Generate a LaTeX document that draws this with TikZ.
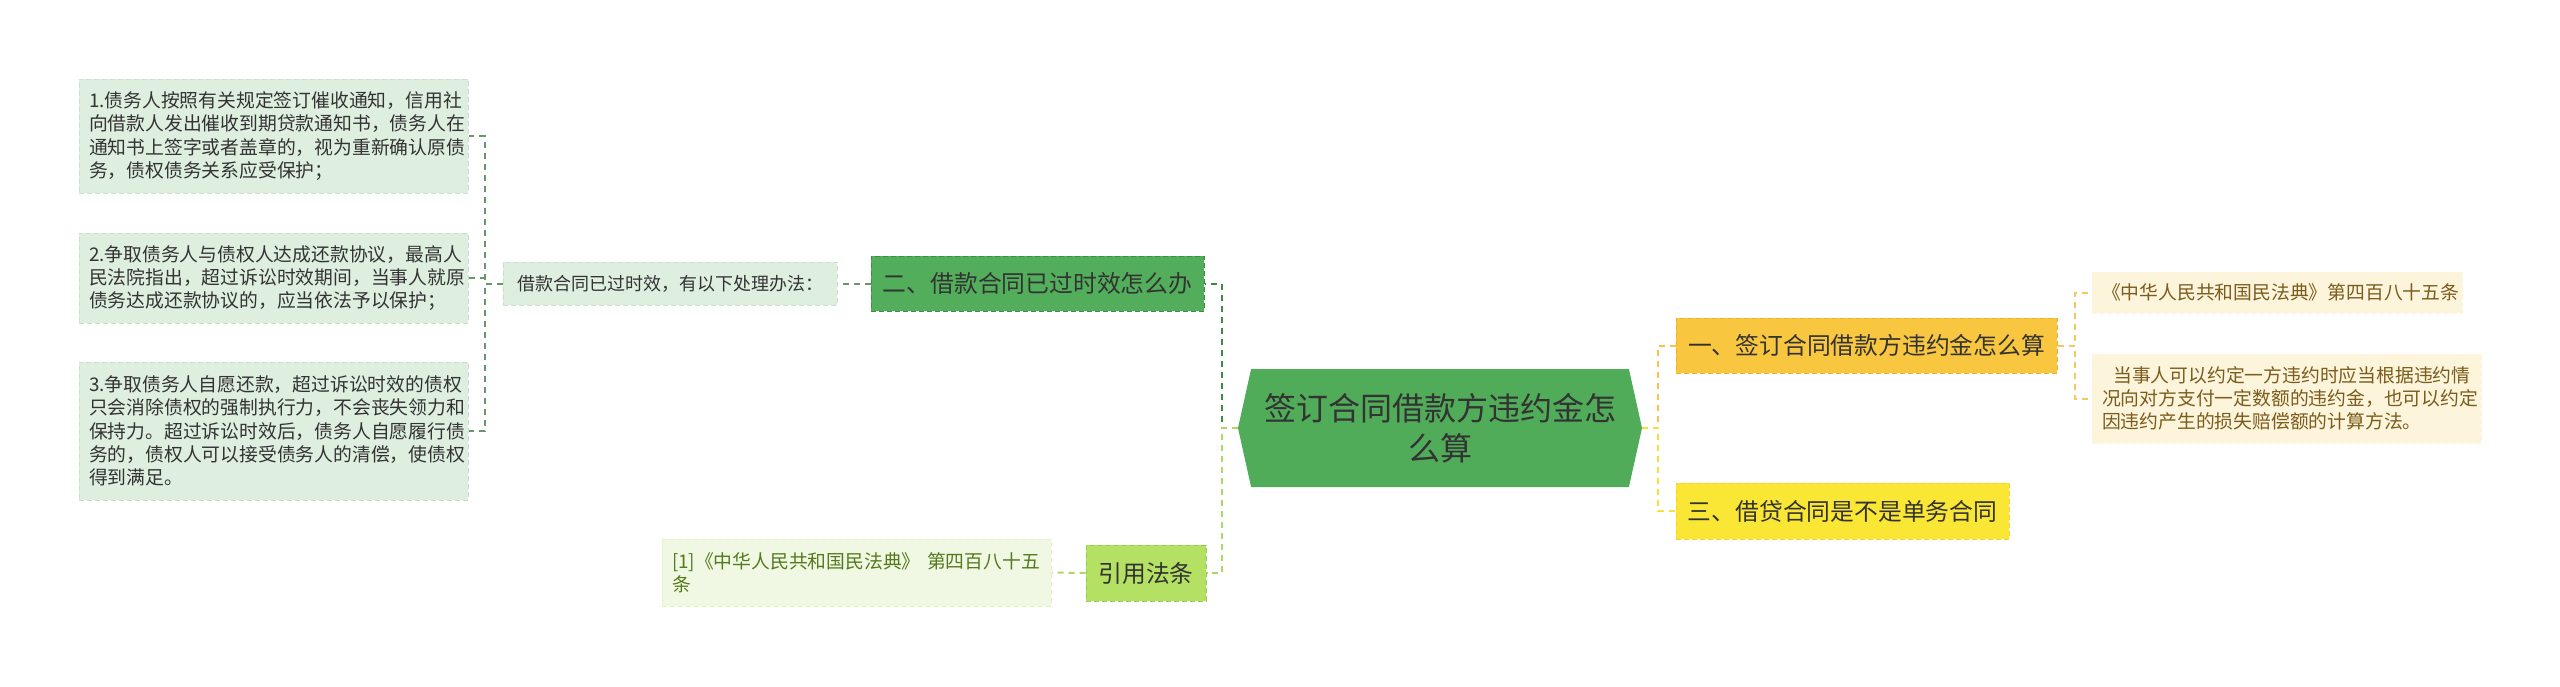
\documentclass[tikz,border=0pt]{standalone}
\usepackage{fontspec}
\setmainfont{Noto Sans CJK SC}
\usetikzlibrary{shapes.symbols}
\definecolor{leafgreen}{RGB}{222,238,223}
\definecolor{leafedge}{RGB}{200,224,202}
\definecolor{midgreen}{RGB}{82,174,90}
\definecolor{midedge}{RGB}{60,140,68}
\definecolor{rootgreen}{RGB}{80,172,88}
\definecolor{linkgreen}{RGB}{104,150,110}
\definecolor{limefill}{RGB}{180,224,100}
\definecolor{limeedge}{RGB}{150,206,80}
\definecolor{limeleaf}{RGB}{240,248,227}
\definecolor{limetext}{RGB}{84,122,30}
\definecolor{limelink}{RGB}{172,216,104}
\definecolor{orangefill}{RGB}{249,198,64}
\definecolor{orangeedge}{RGB}{238,178,40}
\definecolor{orangelink}{RGB}{246,196,72}
\definecolor{yellowfill}{RGB}{250,230,52}
\definecolor{yellowlink}{RGB}{245,224,52}
\definecolor{creamfill}{RGB}{253,244,220}
\definecolor{creamtext}{RGB}{122,92,28}
\definecolor{creamlink}{RGB}{240,202,96}
\definecolor{darktext}{RGB}{51,51,51}
\begin{document}
\begin{tikzpicture}[x=1pt, y=-1pt,
    box/.style={inner xsep=10pt, inner ysep=0pt, line width=1pt, dash pattern=on 5pt off 3pt},
    leaf/.style={box, draw=leafedge, fill=leafgreen, text=darktext, align=left, font=\fontsize{18.8}{23.3}\selectfont},
    topic/.style={box, minimum height=55pt, text=darktext, font=\fontsize{23.8}{28}\selectfont},
    link/.style={line width=2pt, dash pattern=on 6pt off 5pt}]
    \useasboundingbox (0,0) rectangle (2560,686);

    \node[leaf, text width=369pt, minimum height=114pt] (leafA) at (273.5,136) {1.债务人按照有关规定签订催收通知，信用社\\向借款人发出催收到期贷款通知书，债务人在\\通知书上签字或者盖章的，视为重新确认原债\\务，债权债务关系应受保护；};
    \node[leaf, text width=369pt, minimum height=90pt] (leafB) at (273.5,278) {2.争取债务人与债权人达成还款协议，最高人\\民法院指出，超过诉讼时效期间，当事人就原\\债务达成还款协议的，应当依法予以保护；};
    \node[leaf, text width=369pt, minimum height=138pt] (leafC) at (273.5,431) {3.争取债务人自愿还款，超过诉讼时效的债权\\只会消除债权的强制执行力，不会丧失领力和\\保持力。超过诉讼时效后，债务人自愿履行债\\务的，债权人可以接受债务人的清偿，使债权\\得到满足。};
    \node[leaf, font=\fontsize{18}{22}\selectfont, minimum width=334pt, minimum height=43pt] (mid) at (670,283.5) {借款合同已过时效，有以下处理办法：};

    \node[topic, draw=midedge, fill=midgreen, minimum width=333pt] (two) at (1037.5,283.5) {二、借款合同已过时效怎么办};
    \node[signal, signal to=west and east, signal pointer angle=155, fill=rootgreen, text=darktext, align=center, inner sep=0pt, minimum width=404pt, minimum height=118pt, font=\fontsize{32}{40}\selectfont] (root) at (1440,428) {签订合同借款方违约金怎\\么算};
    \node[topic, draw=limeedge, fill=limefill, minimum width=120pt, minimum height=56pt] (cite) at (1146,573) {引用法条};
    \node[leaf, draw=limefill!40, fill=limeleaf, text=limetext, text width=369pt, minimum height=67pt] (citeleaf) at (856.5,572.5) {[1]《中华人民共和国民法典》 第四百八十五\\条};

    \node[topic, draw=orangeedge, fill=orangefill, minimum width=381pt] (one) at (1866.5,345.5) {一、签订合同借款方违约金怎么算};
    \node[topic, draw=yellowfill!80!orange, fill=yellowfill, minimum width=333pt, minimum height=56pt] (three) at (1842.5,511) {三、借贷合同是不是单务合同};
    \node[leaf, draw=creamfill, fill=creamfill, text=creamtext, text width=350pt, minimum height=41pt] (rA) at (2277,292.5) {《中华人民共和国民法典》第四百八十五条};
    \node[leaf, draw=creamfill, fill=creamfill, text=creamtext, text width=369pt, minimum height=89pt] (rB) at (2286.5,398.5) {\hspace*{0.6em}当事人可以约定一方违约时应当根据违约情\\况向对方支付一定数额的违约金，也可以约定\\因违约产生的损失赔偿额的计算方法。};

    \draw[link, linkgreen] (mid.west) -- ++(-18,0) |- (leafA.east);
    \draw[link, linkgreen] (mid.west) -- ++(-18,0) |- (leafB.east);
    \draw[link, linkgreen] (mid.west) -- ++(-18,0) |- (leafC.east);
    \draw[link, linkgreen] (two.west) -- (mid.east);
    \draw[link, midedge] (root.west) -- ++(-16,0) |- (two.east);
    \draw[link, limelink] (root.west) -- ++(-16,0) |- (cite.east);
    \draw[link, limelink] (cite.west) -- (citeleaf.east);
    \draw[link, orangelink] (root.east) -- ++(16,0) |- (one.west);
    \draw[link, yellowlink] (root.east) -- ++(16,0) |- (three.west);
    \draw[link, creamlink] (one.east) -- ++(17,0) |- (rA.west);
    \draw[link, creamlink] (one.east) -- ++(17,0) |- (rB.west);
\end{tikzpicture}
\end{document}
